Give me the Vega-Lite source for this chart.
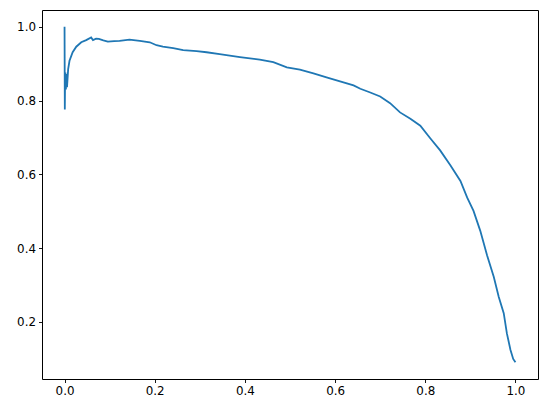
{
  "$schema": "https://vega.github.io/schema/vega-lite/v6.json",
  "width": 496,
  "height": 369,
  "autosize": {"type": "none"},
  "padding": {"left": 42, "top": 10, "right": 9, "bottom": 34},
  "background": "white",
  "config": {
    "view": {"stroke": "black", "strokeWidth": 1},
    "axis": {
      "domain": false,
      "grid": false,
      "ticks": true,
      "tickColor": "black",
      "tickSize": 3.5,
      "tickWidth": 0.9,
      "labelFont": "DejaVu Sans",
      "labelFontSize": 11.9,
      "labelColor": "black",
      "labelPadding": 3,
      "title": null
    }
  },
  "data": {
    "values": [
      {"recall": 0.0, "precision": 1.0},
      {"recall": 0.0006, "precision": 0.776},
      {"recall": 0.0012, "precision": 0.86},
      {"recall": 0.002, "precision": 0.876},
      {"recall": 0.003, "precision": 0.83},
      {"recall": 0.004, "precision": 0.872},
      {"recall": 0.0055, "precision": 0.836},
      {"recall": 0.008, "precision": 0.885},
      {"recall": 0.011, "precision": 0.908},
      {"recall": 0.018, "precision": 0.931},
      {"recall": 0.026, "precision": 0.946},
      {"recall": 0.037, "precision": 0.958},
      {"recall": 0.048, "precision": 0.964},
      {"recall": 0.059, "precision": 0.971},
      {"recall": 0.063, "precision": 0.964},
      {"recall": 0.070, "precision": 0.968},
      {"recall": 0.076, "precision": 0.967},
      {"recall": 0.086, "precision": 0.963},
      {"recall": 0.096, "precision": 0.960},
      {"recall": 0.110, "precision": 0.961},
      {"recall": 0.122, "precision": 0.962},
      {"recall": 0.144, "precision": 0.965},
      {"recall": 0.167, "precision": 0.962},
      {"recall": 0.189, "precision": 0.958},
      {"recall": 0.204, "precision": 0.950},
      {"recall": 0.218, "precision": 0.946},
      {"recall": 0.241, "precision": 0.942},
      {"recall": 0.263, "precision": 0.937},
      {"recall": 0.293, "precision": 0.934},
      {"recall": 0.315, "precision": 0.931},
      {"recall": 0.344, "precision": 0.926},
      {"recall": 0.389, "precision": 0.918},
      {"recall": 0.433, "precision": 0.911},
      {"recall": 0.463, "precision": 0.904},
      {"recall": 0.493, "precision": 0.890},
      {"recall": 0.522, "precision": 0.884},
      {"recall": 0.552, "precision": 0.874},
      {"recall": 0.581, "precision": 0.863},
      {"recall": 0.611, "precision": 0.852},
      {"recall": 0.641, "precision": 0.841},
      {"recall": 0.656, "precision": 0.832},
      {"recall": 0.678, "precision": 0.822},
      {"recall": 0.700, "precision": 0.811},
      {"recall": 0.722, "precision": 0.793},
      {"recall": 0.744, "precision": 0.768},
      {"recall": 0.767, "precision": 0.751},
      {"recall": 0.789, "precision": 0.732},
      {"recall": 0.811, "precision": 0.698},
      {"recall": 0.833, "precision": 0.665},
      {"recall": 0.856, "precision": 0.624},
      {"recall": 0.878, "precision": 0.582},
      {"recall": 0.893, "precision": 0.537},
      {"recall": 0.907, "precision": 0.501},
      {"recall": 0.922, "precision": 0.447},
      {"recall": 0.937, "precision": 0.381},
      {"recall": 0.952, "precision": 0.322},
      {"recall": 0.963, "precision": 0.268},
      {"recall": 0.974, "precision": 0.224},
      {"recall": 0.981, "precision": 0.169},
      {"recall": 0.989, "precision": 0.124},
      {"recall": 0.995, "precision": 0.100},
      {"recall": 1.0, "precision": 0.091}
    ]
  },
  "mark": {"type": "line", "color": "#1f77b4", "strokeWidth": 1.8, "clip": true},
  "encoding": {
    "x": {
      "field": "recall",
      "type": "quantitative",
      "scale": {"domain": [-0.05, 1.05], "nice": false, "zero": false},
      "axis": {"values": [0, 0.2, 0.4, 0.6, 0.8, 1.0], "format": ".1f"}
    },
    "y": {
      "field": "precision",
      "type": "quantitative",
      "scale": {"domain": [0.0455, 1.0455], "nice": false, "zero": false},
      "axis": {"values": [0.2, 0.4, 0.6, 0.8, 1.0], "format": ".1f"}
    }
  }
}
